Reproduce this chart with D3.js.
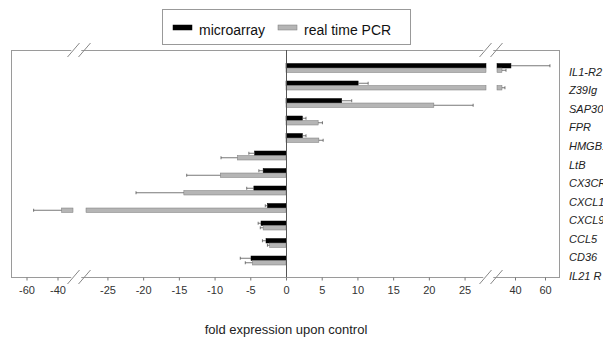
<!DOCTYPE html>
<html><head><meta charset="utf-8">
<script src="https://cdn.jsdelivr.net/npm/d3@7"></script>
<style>body{margin:0;background:#fff}svg{display:block;font-family:"Liberation Sans",Arial,sans-serif}</style>
</head><body><svg id="c" width="603" height="337"></svg>
<script>
const categories = ["IL1-R2","Z39Ig","SAP30","FPR","HMGB1","LtB","CX3CR1","CXCL10","CXCL9","CCL5","CD36","IL21 R"];
const microarray    = [37.3, 10.1, 7.8, 2.3, 2.3, -4.4, -3.2, -4.5, -2.6, -3.5, -2.8, -4.9];
const microarrayErr = [26, 1.4, 1.4, 0.5, 0.5, 0.8, 0.6, 1.0, 0.3, 0.4, 0.5, 1.5];
const pcr           = [31.3, 31.3, 20.7, 4.5, 4.6, -6.8, -9.2, -14.3, -37.4, -3.2, -2.3, -4.7];
const pcrErr        = [2.7, 2.0, 5.5, 0.6, 0.6, 2.3, 4.7, 6.7, 18, 0.4, 0.3, 1.0];
const seriesNames = ["microarray","real time PCR"];
const ticksLeft = [-60,-40];
const ticksMid = [-25,-20,-15,-10,-5,0,5,10,15,20,25];
const ticksRight = [40,60];

const svg = d3.select("#c");
const frame = {l:11, t:50, r:559, b:277};

// broken x axis: three linear segments
const xL = d3.scaleLinear().domain([-70,-30]).range([frame.l, 73]);
const xM = d3.scaleLinear().domain([-28,28]).range([86, 486]);
const xR = d3.scaleLinear().domain([28,70]).range([497, frame.r+1]);
const y = d3.scaleBand().domain(categories).range([59.25, 269.25]);
const ySub = d3.scaleBand().domain(seriesNames).range([4.25, 13.25]);
const yLab = d3.scalePoint().domain(categories).range([72, 276]);

const rows = categories.map((c,i)=>({c, vals:[
  {s:seriesNames[0], v:microarray[i], e:microarrayErr[i]},
  {s:seriesNames[1], v:pcr[i], e:pcrErr[i]}]}));

// frame
svg.append("rect").attr("x",frame.l+0.5).attr("y",frame.t+0.5)
  .attr("width",frame.r-frame.l).attr("height",frame.b-frame.t)
  .attr("fill","none").attr("stroke","#9a9a9a").attr("stroke-width",1);

const fills = {"microarray":"#000", "real time PCR":"#b5b5b5"};
const strokes = {"microarray":"#000", "real time PCR":"#7a7a7a"};

const g = svg.append("g");
rows.forEach(r=>{
  r.vals.forEach(d=>{
    const y0 = y(r.c)+ySub(d.s), h = ySub.bandwidth();
    const sign = Math.sign(d.v);
    const mid = Math.max(-28, Math.min(28, d.v));
    const x0 = xM(0), x1 = xM(mid);
    g.append("rect").attr("x",Math.min(x0,x1)).attr("y",y0).attr("width",Math.abs(x1-x0)).attr("height",h)
      .attr("fill",fills[d.s]).attr("stroke",strokes[d.s]).attr("stroke-width",0.5);
    let sc = xM, endX = x1;
    if (d.v > 28) {
      sc = xR;
      const a = xR(28), b = xR(d.v);
      g.append("rect").attr("x",a).attr("y",y0).attr("width",b-a).attr("height",h)
        .attr("fill",fills[d.s]).attr("stroke",strokes[d.s]).attr("stroke-width",0.5);
      endX = b;
    } else if (d.v < -30) {
      sc = xL;
      const a = xL(d.v), b = xL(-30);
      g.append("rect").attr("x",a).attr("y",y0).attr("width",b-a).attr("height",h)
        .attr("fill",fills[d.s]).attr("stroke",strokes[d.s]).attr("stroke-width",0.5);
      endX = a;
    }
    const ex = sc(d.v + sign*d.e);
    const cy = y0 + h/2;
    g.append("line").attr("x1",endX).attr("x2",ex).attr("y1",cy).attr("y2",cy)
      .attr("stroke","#555").attr("stroke-width",0.8);
    g.append("line").attr("x1",ex).attr("x2",ex).attr("y1",cy-1.5).attr("y2",cy+1.5)
      .attr("stroke","#555").attr("stroke-width",0.8);
  });
});

// zero line
svg.append("line").attr("x1",xM(0)+0.5).attr("x2",xM(0)+0.5).attr("y1",frame.t).attr("y2",frame.b)
  .attr("stroke","#555").attr("stroke-width",1);

// axes
function drawAxis(sc, vals){
  const a = svg.append("g").attr("transform",`translate(0,${frame.b+0.5})`)
    .call(d3.axisBottom(sc).tickValues(vals).tickSize(3).tickPadding(6).tickFormat(d3.format("d")));
  a.select(".domain").remove();
  a.selectAll("line").attr("stroke","#777");
  a.selectAll("text").attr("fill","#333").style("font-size","11px").text(d=>String(d));
}
drawAxis(xL, ticksLeft);
drawAxis(xM, ticksMid);
drawAxis(xR, ticksRight);

// axis break marks
function brk(cx, cy){
  const b = svg.append("g");
  b.append("polygon").attr("points",`${cx-5},${cy+6} ${cx+5},${cy+6} ${cx+11},${cy-6} ${cx+1},${cy-6}`)
    .attr("fill","#fff").attr("transform","translate(-6,0)");
  [-6,5].forEach(o=>{
    b.append("line").attr("x1",cx+o-6).attr("y1",cy+7).attr("x2",cx+o+6).attr("y2",cy-7)
      .attr("stroke","#888").attr("stroke-width",1);
  });
}
const bl = (xL(-30)+xM(-28))/2, br = (xM(28)+xR(28))/2;
brk(bl, frame.t); brk(br, frame.t); brk(bl, frame.b); brk(br, frame.b);

// category labels
svg.append("g").selectAll("text").data(categories).join("text")
  .attr("x",569).attr("y",d=>yLab(d)).attr("dy","0.35em")
  .attr("font-style","italic").style("font-size","11px").attr("fill","#222").text(d=>d);

// axis title
svg.append("text").attr("x",xM(0)).attr("y",334).attr("text-anchor","middle")
  .style("font-size","13px").attr("fill","#222").text("fold expression upon control");

// legend
const lg = svg.append("g");
lg.append("rect").attr("x",162.5).attr("y",9.5).attr("width",248).attr("height",35)
  .attr("fill","#fff").attr("stroke","#999");
const lx = [173, 278], tx = [199, 304];
seriesNames.forEach((s,i)=>{
  lg.append("rect").attr("x",lx[i]).attr("y",25).attr("width",19).attr("height",5)
    .attr("fill",fills[s]).attr("stroke",strokes[s]).attr("stroke-width",0.5);
  lg.append("text").attr("x",tx[i]).attr("y",34.5).style("font-size","14px").attr("fill","#111").text(s);
});
</script></body></html>
